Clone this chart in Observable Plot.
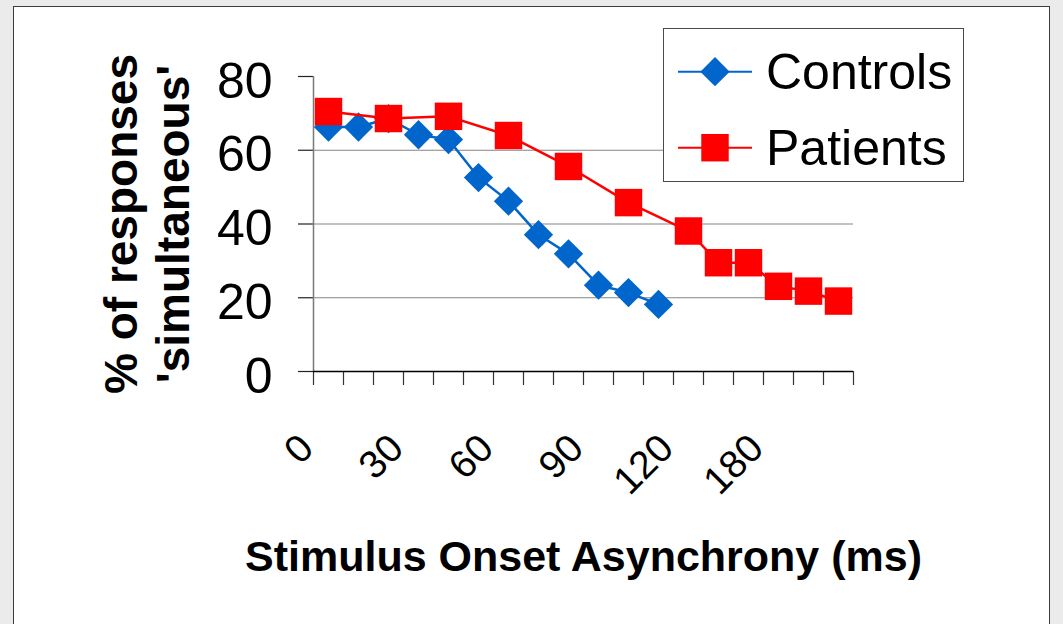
<!DOCTYPE html>
<html>
<head>
<meta charset="utf-8">
<script src="https://cdn.jsdelivr.net/npm/d3@7"></script>
<script src="https://cdn.jsdelivr.net/npm/@observablehq/plot@0.6"></script>
<style>
  html, body { margin: 0; padding: 0; background: #ebebeb; width: 1063px; height: 624px; overflow: hidden;
    font-family: "Liberation Sans", Arial, sans-serif; }
  #frame { position: absolute; left: 13px; top: 6px; width: 1037px; height: 700px; background: #fff;
    border: 1.5px solid #3c3c3c; box-sizing: border-box; }
  #chart { position: absolute; left: 0; top: 0; }
  #legend { position: absolute; left: 663px; top: 28px; width: 301px; height: 154px; background: #fff;
    border: 1.5px solid #4a4a4a; box-sizing: border-box; }
  #legend svg { position: absolute; left: -1.5px; top: -1.5px; overflow: visible; }
</style>
</head>
<body>
<div id="frame"></div>
<div id="chart"></div>
<div id="legend"></div>
<script>
// ---- data ----
const categories = ["0","10","20","30","40","50","60","70","80","90","100","110","120","140","160","180","200","220"];
const tickLabels = ["0","30","60","90","120","180"];
const yTicks = [0, 20, 40, 60, 80];
const gridValues = [20, 40, 60];

const controlsSOA = ["0","10","20","30","40","50","60","70","80","90","100","110"];
const controlsValues = [66.3, 66.3, 68.6, 64.2, 62.9, 52.6, 46.2, 37.1, 31.9, 23.4, 21.4, 18.2];

const patientsSOA = ["0","20","40","60","80","100","120","140","160","180","200","220"];
const patientsValues = [70.5, 68.6, 69.2, 64.0, 55.6, 45.8, 38.1, 29.5, 29.5, 23.1, 21.8, 19.1];

const seriesNames = ["Controls", "Patients"];
const seriesColors = ["#0066CC", "#FF0000"];
const seriesSymbols = ["diamond2", "square"];

const xTitle = "Stimulus Onset Asynchrony (ms)";
const yTitle = "% of responses\n'simultaneous'";

// ---- build ----
const controls = controlsSOA.map((s, i) => ({soa: s, value: controlsValues[i]}));
const patients = patientsSOA.map((s, i) => ({soa: s, value: patientsValues[i]}));
const xPos = d => categories.indexOf(d.soa) + 0.5;
const font = '"Liberation Sans", Arial, sans-serif';
const rDiamond = 13.2, rSquare = 15.5;

const chart = Plot.plot({
  width: 1063, height: 624,
  marginLeft: 313, marginRight: 210, marginTop: 76, marginBottom: 253,
  style: {background: "transparent", fontFamily: font, overflow: "visible"},
  x: {type: "linear", domain: [0, categories.length], axis: null},
  y: {domain: [0, 80], axis: null},
  marks: [
    Plot.ruleY(gridValues, {stroke: "#858585", strokeWidth: 1.2}),
    Plot.axisY(yTicks, {tickSize: 15, tickFormat: () => "", stroke: "#222", strokeWidth: 1.2, label: null}),
    Plot.axisX(d3.range(categories.length + 1), {tickSize: 14, tickFormat: () => "", stroke: "#333", strokeWidth: 1.2, label: null}),
    Plot.ruleX([0], {stroke: "#7a7a7a", strokeWidth: 1.5}),
    Plot.ruleY([0], {stroke: "#000", strokeWidth: 1.5}),
    Plot.text(yTicks, {y: d => d, text: d => String(d), frameAnchor: "left", textAnchor: "end",
      dx: -41, dy: 5, fontSize: 50, fill: "#000"}),
    Plot.text(tickLabels, {x: d => categories.indexOf(d) + 0.5, text: d => d, frameAnchor: "bottom",
      rotate: -45, textAnchor: "end", lineAnchor: "bottom", dx: -13, dy: 79, fontSize: 39, fill: "#000"}),
    Plot.text([xTitle], {text: d => d, frameAnchor: "bottom", textAnchor: "middle", lineAnchor: "bottom", dy: 199,
      fontWeight: "bold", fontSize: 43, fill: "#000"}),
    Plot.text([yTitle], {text: d => d, frameAnchor: "left", textAnchor: "middle", rotate: -90, dx: -167, lineHeight: 1.12,
      fontWeight: "bold", fontSize: 46, fill: "#000"}),
    Plot.line(controls, {x: xPos, y: "value", stroke: seriesColors[0], strokeWidth: 2.5}),
    Plot.dot(controls, {x: xPos, y: "value", symbol: seriesSymbols[0], r: rDiamond, fill: seriesColors[0], stroke: "none"}),
    Plot.line(patients, {x: xPos, y: "value", stroke: seriesColors[1], strokeWidth: 2.5}),
    Plot.dot(patients, {x: xPos, y: "value", symbol: seriesSymbols[1], r: rSquare, fill: seriesColors[1], stroke: "none"})
  ]
});
document.getElementById("chart").appendChild(chart);

// ---- legend ----
const lsvg = d3.select("#legend").append("svg").attr("width", 301).attr("height", 154);
const symbolMap = {diamond2: [d3.symbolDiamond2, rDiamond], square: [d3.symbolSquare, rSquare]};
seriesNames.forEach((name, i) => {
  const cy = 43.7 + i * 76;
  const g = lsvg.append("g");
  g.append("line").attr("x1", 15).attr("x2", 89).attr("y1", cy).attr("y2", cy)
    .attr("stroke", seriesColors[i]).attr("stroke-width", 2);
  const [sym, r] = symbolMap[seriesSymbols[i]];
  g.append("path").attr("d", d3.symbol(sym, r * r * Math.PI)()).attr("transform", `translate(52,${cy})`)
    .attr("fill", seriesColors[i]);
  g.append("text").attr("x", 103).attr("y", cy + 17).text(name)
    .attr("font-family", font).attr("font-size", 50).attr("fill", "#000");
});
</script>
</body>
</html>
